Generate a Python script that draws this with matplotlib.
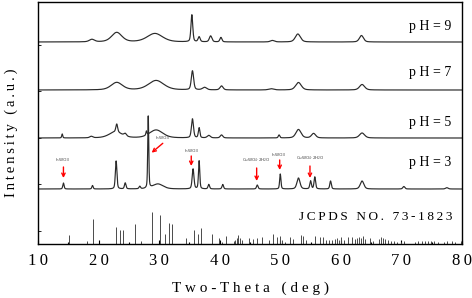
import numpy as np
import matplotlib
matplotlib.use('Agg')
import matplotlib.pyplot as plt
from matplotlib.ticker import MultipleLocator

plt.rcParams['font.family'] = ['Liberation Serif', 'DejaVu Serif']

# ---- données (position 2theta, hauteur, largeur) ----
ph9_peaks = [(18.9, 2.5, 1.0), (23.0, 9.5, 2.0), (29.3, 8.5, 3.0), (35.4, 27, 0.35),
             (36.6, 5, 0.4), (38.5, 6, 0.5), (40.2, 4.5, 0.4), (48.7, 1.5, 0.8),
             (52.9, 8, 1.0), (63.4, 6.5, 0.8)]
ph7_peaks = [(23.0, 7.5, 2.2), (29.5, 9.5, 3.0), (35.5, 19, 0.45), (37.5, 2.5, 0.8),
             (40.3, 4, 0.6), (48.5, 1.2, 1.0), (53.0, 7.5, 1.1), (63.5, 5.5, 1.0)]
ph5_peaks = [(14.0, 4, 0.2), (18.8, 1.5, 0.6), (22.8, 6, 2.5), (23.0, 8, 0.35),
             (24.4, 2.5, 0.5), (27.9, 4, 0.2), (29.5, 8, 2.6), (35.5, 19, 0.4),
             (36.6, 10, 0.3), (38.2, 2.5, 0.6), (40.3, 3, 0.5), (49.8, 3, 0.3),
             (53.0, 8.5, 1.0), (55.5, 4.5, 0.8), (63.5, 5, 1.0)]
ph3_peaks = [(14.2, 6, 0.25), (19.0, 3.5, 0.25), (22.9, 28, 0.3), (24.4, 6, 0.3),
             (26.8, 2.5, 0.3), (28.2, 72, 0.2), (29.8, 5, 2.0), (35.6, 20, 0.35),
             (36.6, 28, 0.25), (38.2, 4.5, 0.3), (40.5, 4.5, 0.3), (46.2, 4, 0.3),
             (50.0, 15, 0.25), (53.0, 11, 0.6), (55.0, 8, 0.3), (55.7, 12, 0.3),
             (58.3, 8, 0.3), (63.5, 8, 0.7), (70.4, 2.5, 0.4), (77.5, 1.3, 0.5)]

samples = ['p H = 3', 'p H = 5', 'p H = 7', 'p H = 9']
sample_peaks = [ph3_peaks, ph5_peaks, ph7_peaks, ph9_peaks]
offsets = [55, 106, 154, 202]

jcpds_pos = [15.2, 18.1, 19.0, 22.9, 23.6, 24.1, 26.0, 27.0, 28.75, 30.1, 30.9, 31.7,
             32.2, 34.4, 35.7, 36.4, 36.9, 38.65, 39.9, 40.4, 41.1, 42.3, 42.6, 42.9,
             43.0, 43.3, 43.6, 44.9, 45.5, 46.2, 47.0, 48.2, 48.8, 49.4, 49.9, 50.3,
             50.8, 51.6, 52.1, 53.35, 53.7, 54.3, 55.7, 56.5, 57.0, 57.5, 58.0, 58.5,
             59.0, 59.4, 59.7, 60.1, 60.6, 61.2, 61.8, 62.3, 62.7, 63.0, 63.3, 63.6,
             64.0, 64.8, 65.3, 66.3, 66.7, 67.0, 67.3, 67.8, 68.3, 68.8, 69.3, 70.0,
             70.5, 72.2, 72.8, 73.4, 73.9, 74.4, 74.9, 75.4, 76.0, 77.0, 77.6, 78.3,
             78.8, 79.8]
jcpds_int = [9, 3, 25, 17, 14, 14, 20, 3, 32, 29, 10.5, 21,
             20.5, 6, 14, 10.5, 16, 10.5, 6, 2.5, 8, 3, 4, 6,
             9, 6, 4, 6, 5.5, 6, 7, 4.5, 10.5, 7, 8, 4,
             2.5, 7, 5.5, 9.5, 8, 4, 8.5, 7.5, 7.5, 4, 4, 4.5,
             5, 6, 4, 7, 4, 7, 7, 5, 6, 7, 6, 8,
             5, 6.5, 3, 5, 7.5, 6, 5, 4, 3, 3.5, 2.5, 2.5,
             3, 2.5, 3, 3, 3.5, 3, 3.5, 3, 2.5, 2, 3, 3,
             2.5, 3]

xticks = [10, 20, 30, 40, 50, 60, 70, 80]

# annotations (pointe, départ, position du texte, texte)
arrow_tips = [(14.2, 66), (28.76, 91.3), (35.3, 78), (46.1, 63), (49.9, 74), (54.9, 66)]
arrow_tails = [(14.2, 77), (30.6, 100.7), (35.3, 88), (46.1, 76), (49.9, 84), (54.9, 78)]
arrow_text_pos = [(14.1, 82), (30.5, 104), (35.3, 91.5), (46.0, 79.5), (49.8, 87.5), (54.9, 81.5)]
arrow_labels = ['h-WO3', 'h-WO3', 'h-WO3', 'CuWO$_4$·2H$_2$O', 'h-WO3', 'CuWO$_4$·2H$_2$O']


def profile(x, peaks):
    y = np.zeros_like(x)
    for pos, h, w in peaks:
        d = (x - pos) / w
        y += h * (0.6 * np.exp(-4 * np.log(2) * d ** 2) + 0.4 / (1 + 4 * d ** 2))
    return y


def spaced(s, sep='\u2009'):
    return sep.join(s)


fig = plt.figure(figsize=(4.72, 2.98), dpi=100)
ax = fig.add_axes([38 / 472, 54 / 298, 424 / 472, 242 / 298])

x = np.linspace(10, 80, 3501)
for name, peaks, off in zip(samples, sample_peaks, offsets):
    ax.plot(x, off + profile(x, peaks), color='#2a2a2a', lw=0.85)

ax.vlines(jcpds_pos, 0, jcpds_int, color='#4a4a4a', lw=0.7)

label_y = [78, 118, 168, 214]
for name, ly in zip(samples, label_y):
    ax.text(74.8, ly, name, ha='center', va='baseline', fontsize=10)
ax.text(65.7, 23.5, spaced('JCPDS NO. 73-1823'), ha='center', va='baseline', fontsize=9.5)

for tip, tail, tpos, lab in zip(arrow_tips, arrow_tails, arrow_text_pos, arrow_labels):
    ax.annotate('', xy=tip, xytext=tail,
                arrowprops=dict(arrowstyle='->', color='red', lw=1.0,
                                shrinkA=0, shrinkB=0, mutation_scale=6))
    ax.text(tpos[0], tpos[1], lab, ha='center', va='bottom', fontsize=3,
            color='#444444', family='DejaVu Sans')

ax.set_xlim(10, 80)
ax.set_ylim(0, 242)
ax.set_xticks(xticks)
ax.set_xticklabels([spaced(str(v)) for v in xticks])
ax.xaxis.set_minor_locator(MultipleLocator(5))
ax.set_yticks([13.5, 60, 106.5, 153, 199.5])
ax.set_yticklabels([])
ax.tick_params(axis='x', which='major', direction='in', length=3, width=0.8,
               labelsize=12, pad=6.5)
ax.tick_params(axis='x', which='minor', direction='in', length=1.8, width=0.8)
ax.tick_params(axis='y', direction='in', length=2, width=0.6)
for sp in ax.spines.values():
    sp.set_linewidth(1.0)

ax.set_xlabel(spaced('Two-Theta (deg)', ' '), fontsize=11)
ax.xaxis.set_label_coords(0.5, -0.154)
ax.set_ylabel(spaced('Intensity (a.u.)'), fontsize=10.5)
ax.yaxis.set_label_coords(-0.0465, 0.461)

fig.savefig('out.png', dpi=100)
